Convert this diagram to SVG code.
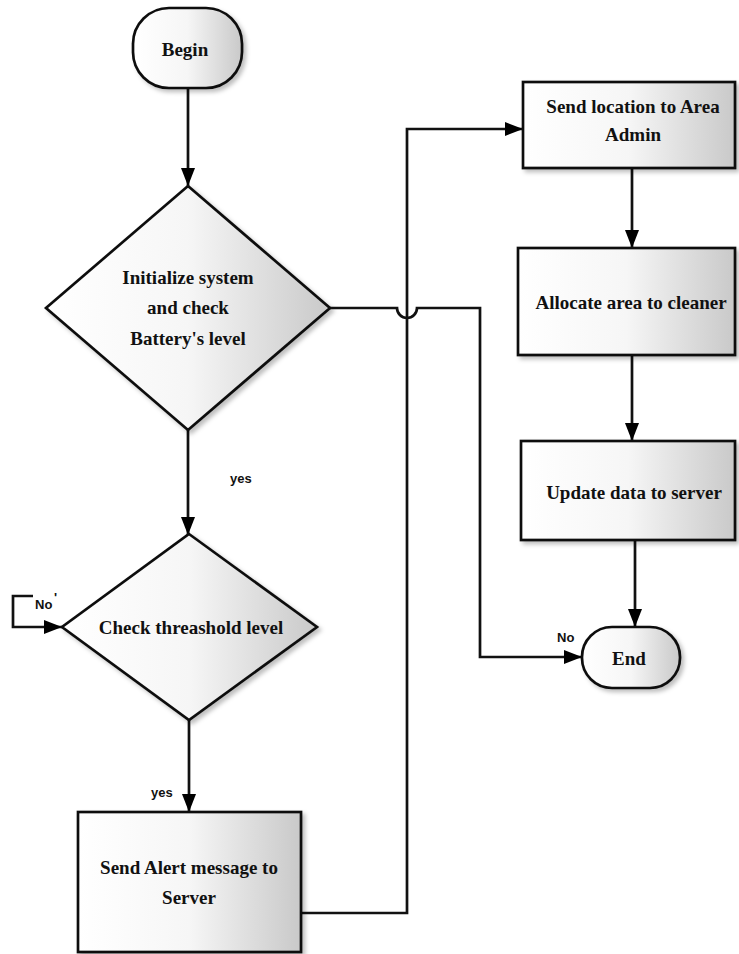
<svg xmlns="http://www.w3.org/2000/svg" width="739" height="954" viewBox="0 0 739 954">
<defs>
<linearGradient id="g" x1="0" y1="0" x2="1" y2="0">
<stop offset="0" stop-color="#ffffff"/>
<stop offset="0.5" stop-color="#f6f6f6"/>
<stop offset="1" stop-color="#c9c9c9"/>
</linearGradient>
<filter id="sh" x="-10%" y="-10%" width="125%" height="125%">
<feDropShadow dx="3" dy="3" stdDeviation="2" flood-color="#000" flood-opacity="0.25"/>
</filter>
<marker id="ah" markerWidth="18" markerHeight="16" viewBox="0 0 18 16" refX="18" refY="8" orient="auto" markerUnits="userSpaceOnUse">
<path d="M0,1 L18,8 L0,15 Z" fill="#000"/>
</marker>
</defs>
<style>
.shape{fill:url(#g);stroke:#111;stroke-width:2.7;filter:url(#sh)}
.t{font-family:"Liberation Serif",serif;font-weight:bold;font-size:19px;fill:#111;text-anchor:middle}
.lbl{font-family:"Liberation Sans",sans-serif;font-weight:bold;font-size:13px;fill:#111}
.c{fill:none;stroke:#111;stroke-width:2.7}
</style>
<rect width="739" height="954" fill="#ffffff"/>
<g id="connectors">
<path class="c" d="M188 88 V186" marker-end="url(#ah)"/>
<path class="c" d="M188 430 V535" marker-end="url(#ah)"/>
<path class="c" d="M189 720 V812" marker-end="url(#ah)"/>
<path class="c" d="M33 596 H13 V627 H62" marker-end="url(#ah)"/>
<path class="c" d="M330 308 H397 A10 10 0 0 0 417 308 H480 V657 H582" marker-end="url(#ah)"/>
<path class="c" d="M301 913 H407 V129 H523" marker-end="url(#ah)"/>
<path class="c" d="M632 168 V248" marker-end="url(#ah)"/>
<path class="c" d="M632 355 V441" marker-end="url(#ah)"/>
<path class="c" d="M635 540 V627" marker-end="url(#ah)"/>
<text class="lbl" x="230" y="483">yes</text>
<text class="lbl" x="151" y="797">yes</text>
<text class="lbl" x="35" y="609">No</text>
<text class="lbl" x="54" y="602" font-size="9">'</text>
<text class="lbl" x="557" y="642">No</text>
</g>
<g id="begin">
<rect class="shape" x="133" y="8" width="109" height="80" rx="36" ry="36"/>
<text class="t" x="185" y="56">Begin</text>
</g>
<g id="init">
<polygon class="shape" points="188,186 330,308 188,430 46,308"/>
<text class="t" x="188" y="284">Initialize system</text>
<text class="t" x="188" y="314">and check</text>
<text class="t" x="188" y="345">Battery's level</text>
</g>
<g id="threshold">
<polygon class="shape" points="189,534 317,627 189,720 62,627"/>
<text class="t" x="191" y="634">Check threashold level</text>
</g>
<g id="alert">
<rect class="shape" x="78" y="812" width="223" height="140"/>
<text class="t" x="189" y="874">Send Alert message to</text>
<text class="t" x="189" y="904">Server</text>
</g>
<g id="sendloc">
<rect class="shape" x="523" y="82" width="212" height="86"/>
<text class="t" x="633" y="113">Send location to Area</text>
<text class="t" x="633" y="141">Admin</text>
</g>
<g id="allocate">
<rect class="shape" x="518" y="248" width="217" height="107"/>
<text class="t" x="631" y="309">Allocate area to cleaner</text>
</g>
<g id="update">
<rect class="shape" x="521" y="441" width="214" height="99"/>
<text class="t" x="634" y="499">Update data to server</text>
</g>
<g id="end">
<rect class="shape" x="582" y="627" width="98" height="61" rx="30" ry="30"/>
<text class="t" x="629" y="665">End</text>
</g>
</svg>
